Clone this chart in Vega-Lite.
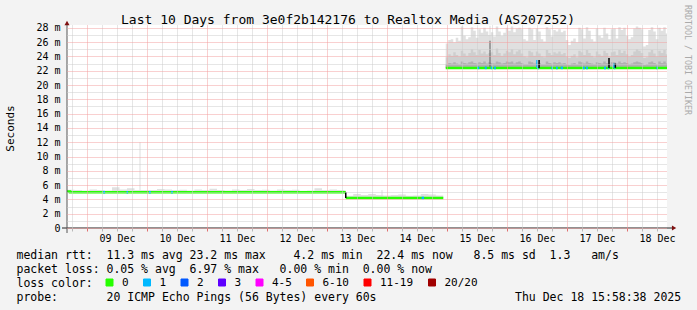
{
  "$schema": "https://vega.github.io/schema/vega-lite/v6.json",
  "width": 600,
  "height": 203,
  "autosize": {"type": "none"},
  "padding": {"left": 67, "top": 25, "right": 30, "bottom": 82},
  "background": "#f3f3f3",
  "config": {"view": {"fill": "#ffffff", "stroke": null}, "font": "DejaVu Sans Mono"},
  "title": {"text": "Last 10 Days from 3e0f2b142176 to Realtox Media (AS207252)", "font": "DejaVu Sans Mono", "fontSize": 13, "fontWeight": "normal", "color": "#000000", "frame": "group", "anchor": "middle", "dx": -19, "baseline": "middle", "offset": -28},
  "datasets": {
    "smoke": [
      {"t":"2025-12-08T16:00","s":1,"lo":4.95,"a":5.02,"b":5.1,"hi":5.35},
      {"t":"2025-12-08T19:00","s":1,"lo":4.95,"a":5.02,"b":5.1,"hi":5.3},
      {"t":"2025-12-08T22:00","s":1,"lo":4.95,"a":5.02,"b":5.1,"hi":5.25},
      {"t":"2025-12-09T01:00","s":1,"lo":4.95,"a":5.02,"b":5.1,"hi":5.4},
      {"t":"2025-12-09T04:00","s":1,"lo":4.95,"a":5.02,"b":5.1,"hi":5.3},
      {"t":"2025-12-09T07:00","s":1,"lo":4.95,"a":5.02,"b":5.1,"hi":5.25},
      {"t":"2025-12-09T10:00","s":1,"lo":4.95,"a":5.02,"b":5.12,"hi":5.7},
      {"t":"2025-12-09T13:00","s":1,"lo":4.95,"a":5.02,"b":5.1,"hi":5.4},
      {"t":"2025-12-09T16:00","s":1,"lo":4.95,"a":5.02,"b":5.12,"hi":5.55},
      {"t":"2025-12-09T19:00","s":1,"lo":4.95,"a":5.02,"b":5.1,"hi":5.3},
      {"t":"2025-12-09T22:00","s":1,"lo":4.95,"a":5.02,"b":5.1,"hi":5.3},
      {"t":"2025-12-10T01:00","s":1,"lo":4.95,"a":5.02,"b":5.1,"hi":5.3},
      {"t":"2025-12-10T04:00","s":1,"lo":4.95,"a":5.02,"b":5.1,"hi":5.45},
      {"t":"2025-12-10T07:00","s":1,"lo":4.95,"a":5.02,"b":5.1,"hi":5.4},
      {"t":"2025-12-10T10:00","s":1,"lo":4.95,"a":5.02,"b":5.1,"hi":5.3},
      {"t":"2025-12-10T13:00","s":1,"lo":4.95,"a":5.02,"b":5.1,"hi":5.35},
      {"t":"2025-12-10T16:00","s":1,"lo":4.95,"a":5.02,"b":5.1,"hi":5.25},
      {"t":"2025-12-10T19:00","s":1,"lo":4.95,"a":5.02,"b":5.1,"hi":5.4},
      {"t":"2025-12-10T22:00","s":1,"lo":4.95,"a":5.02,"b":5.1,"hi":5.3},
      {"t":"2025-12-11T01:00","s":1,"lo":4.95,"a":5.02,"b":5.1,"hi":5.5},
      {"t":"2025-12-11T04:00","s":1,"lo":4.95,"a":5.02,"b":5.1,"hi":5.3},
      {"t":"2025-12-11T07:00","s":1,"lo":4.95,"a":5.02,"b":5.1,"hi":5.25},
      {"t":"2025-12-11T10:00","s":1,"lo":4.95,"a":5.02,"b":5.1,"hi":5.4},
      {"t":"2025-12-11T13:00","s":1,"lo":4.95,"a":5.02,"b":5.1,"hi":5.3},
      {"t":"2025-12-11T16:00","s":1,"lo":4.95,"a":5.02,"b":5.1,"hi":5.45},
      {"t":"2025-12-11T19:00","s":1,"lo":4.95,"a":5.02,"b":5.1,"hi":5.3},
      {"t":"2025-12-11T22:00","s":1,"lo":4.95,"a":5.02,"b":5.1,"hi":5.35},
      {"t":"2025-12-12T01:00","s":1,"lo":4.95,"a":5.02,"b":5.1,"hi":5.25},
      {"t":"2025-12-12T04:00","s":1,"lo":4.95,"a":5.02,"b":5.1,"hi":5.4},
      {"t":"2025-12-12T07:00","s":1,"lo":4.95,"a":5.02,"b":5.1,"hi":5.3},
      {"t":"2025-12-12T10:00","s":1,"lo":4.95,"a":5.02,"b":5.1,"hi":5.35},
      {"t":"2025-12-12T13:00","s":1,"lo":4.95,"a":5.02,"b":5.1,"hi":5.2},
      {"t":"2025-12-12T16:00","s":1,"lo":4.95,"a":5.02,"b":5.1,"hi":5.25},
      {"t":"2025-12-12T19:00","s":1,"lo":4.95,"a":5.02,"b":5.12,"hi":5.55},
      {"t":"2025-12-12T22:00","s":1,"lo":4.95,"a":5.02,"b":5.1,"hi":5.3},
      {"t":"2025-12-13T01:00","s":1,"lo":4.95,"a":5.02,"b":5.1,"hi":5.4},
      {"t":"2025-12-13T04:00","s":1,"lo":4.95,"a":5.02,"b":5.1,"hi":5.3},
      {"t":"2025-12-13T07:00","s":1,"lo":4.95,"a":5.02,"b":5.1,"hi":5.25},
      {"t":"2025-12-13T07:30","s":1,"lo":4.95,"a":5.02,"b":5.1,"hi":5.25},
      {"t":"2025-12-13T07:30","s":2,"lo":4.15,"a":4.22,"b":4.3,"hi":4.5},
      {"t":"2025-12-13T10:30","s":2,"lo":4.15,"a":4.22,"b":4.3,"hi":4.75},
      {"t":"2025-12-13T13:30","s":2,"lo":4.15,"a":4.22,"b":4.3,"hi":4.6},
      {"t":"2025-12-13T16:30","s":2,"lo":4.15,"a":4.22,"b":4.3,"hi":4.75},
      {"t":"2025-12-13T19:30","s":2,"lo":4.15,"a":4.22,"b":4.3,"hi":4.6},
      {"t":"2025-12-13T22:30","s":2,"lo":4.15,"a":4.22,"b":4.3,"hi":4.55},
      {"t":"2025-12-14T01:30","s":2,"lo":4.15,"a":4.22,"b":4.3,"hi":4.6},
      {"t":"2025-12-14T04:30","s":2,"lo":4.15,"a":4.22,"b":4.3,"hi":4.7},
      {"t":"2025-12-14T07:30","s":2,"lo":4.15,"a":4.22,"b":4.3,"hi":4.5},
      {"t":"2025-12-14T10:30","s":2,"lo":4.15,"a":4.22,"b":4.3,"hi":4.55},
      {"t":"2025-12-14T13:30","s":2,"lo":4.15,"a":4.22,"b":4.3,"hi":4.75},
      {"t":"2025-12-14T16:30","s":2,"lo":4.15,"a":4.22,"b":4.3,"hi":4.7},
      {"t":"2025-12-14T19:30","s":2,"lo":4.15,"a":4.22,"b":4.3,"hi":4.55},
      {"t":"2025-12-14T22:30","s":2,"lo":4.15,"a":4.22,"b":4.3,"hi":4.55},
      {"t":"2025-12-14T23:30","s":3,"lo":22.35,"a":22.9,"b":23.9,"hi":25.8},
      {"t":"2025-12-15T00:30","s":3,"lo":22.35,"a":23.1,"b":24.3,"hi":26.3},
      {"t":"2025-12-15T01:30","s":3,"lo":22.35,"a":23.0,"b":24.1,"hi":26.4},
      {"t":"2025-12-15T02:30","s":3,"lo":22.35,"a":23.2,"b":24.6,"hi":26.0},
      {"t":"2025-12-15T03:30","s":3,"lo":22.35,"a":23.0,"b":24.2,"hi":26.6},
      {"t":"2025-12-15T04:30","s":3,"lo":22.35,"a":22.9,"b":24.0,"hi":26.2},
      {"t":"2025-12-15T05:30","s":3,"lo":22.35,"a":23.3,"b":24.8,"hi":28.2},
      {"t":"2025-12-15T06:30","s":3,"lo":22.35,"a":23.1,"b":24.4,"hi":26.9},
      {"t":"2025-12-15T07:30","s":3,"lo":22.35,"a":23.0,"b":24.1,"hi":26.4},
      {"t":"2025-12-15T08:30","s":3,"lo":22.35,"a":23.2,"b":24.5,"hi":26.7},
      {"t":"2025-12-15T09:30","s":3,"lo":22.35,"a":23.3,"b":25.0,"hi":28.1},
      {"t":"2025-12-15T10:30","s":3,"lo":22.35,"a":23.1,"b":24.6,"hi":27.6},
      {"t":"2025-12-15T11:30","s":3,"lo":22.35,"a":23.0,"b":24.2,"hi":26.6},
      {"t":"2025-12-15T12:30","s":3,"lo":22.35,"a":23.2,"b":24.9,"hi":27.8},
      {"t":"2025-12-15T13:30","s":3,"lo":22.35,"a":23.1,"b":24.4,"hi":27.3},
      {"t":"2025-12-15T14:30","s":3,"lo":22.35,"a":23.3,"b":24.7,"hi":28.0},
      {"t":"2025-12-15T15:30","s":3,"lo":22.35,"a":23.0,"b":24.3,"hi":27.5},
      {"t":"2025-12-15T16:30","s":3,"lo":22.35,"a":23.2,"b":24.5,"hi":27.0},
      {"t":"2025-12-15T17:30","s":3,"lo":22.35,"a":23.1,"b":24.6,"hi":27.4},
      {"t":"2025-12-15T18:30","s":3,"lo":22.35,"a":23.0,"b":24.2,"hi":26.8},
      {"t":"2025-12-15T19:30","s":3,"lo":22.35,"a":23.3,"b":25.1,"hi":28.2},
      {"t":"2025-12-15T20:30","s":3,"lo":22.35,"a":23.2,"b":24.5,"hi":27.5},
      {"t":"2025-12-15T21:30","s":3,"lo":22.35,"a":23.0,"b":24.1,"hi":26.9},
      {"t":"2025-12-15T22:30","s":3,"lo":22.35,"a":23.1,"b":24.4,"hi":27.3},
      {"t":"2025-12-15T23:30","s":3,"lo":22.35,"a":23.3,"b":24.8,"hi":28.0},
      {"t":"2025-12-16T00:30","s":3,"lo":22.35,"a":23.2,"b":24.6,"hi":27.6},
      {"t":"2025-12-16T01:30","s":3,"lo":22.35,"a":23.3,"b":25.0,"hi":28.2},
      {"t":"2025-12-16T02:30","s":3,"lo":22.35,"a":23.0,"b":24.3,"hi":27.4},
      {"t":"2025-12-16T03:30","s":3,"lo":22.35,"a":23.2,"b":24.7,"hi":27.9},
      {"t":"2025-12-16T04:30","s":3,"lo":22.35,"a":23.3,"b":24.9,"hi":28.0},
      {"t":"2025-12-16T05:30","s":3,"lo":22.35,"a":23.1,"b":24.4,"hi":27.8},
      {"t":"2025-12-16T06:30","s":3,"lo":22.35,"a":22.9,"b":24.0,"hi":26.4},
      {"t":"2025-12-16T07:30","s":3,"lo":22.35,"a":22.9,"b":23.9,"hi":26.2},
      {"t":"2025-12-16T08:30","s":3,"lo":22.35,"a":23.3,"b":24.8,"hi":28.0},
      {"t":"2025-12-16T09:30","s":3,"lo":22.35,"a":23.2,"b":24.6,"hi":27.8},
      {"t":"2025-12-16T10:30","s":3,"lo":22.35,"a":23.0,"b":24.1,"hi":26.3},
      {"t":"2025-12-16T11:30","s":3,"lo":22.35,"a":23.2,"b":24.7,"hi":27.9},
      {"t":"2025-12-16T12:30","s":3,"lo":22.35,"a":23.1,"b":24.4,"hi":27.5},
      {"t":"2025-12-16T13:30","s":3,"lo":22.35,"a":22.9,"b":24.0,"hi":26.4},
      {"t":"2025-12-16T14:30","s":3,"lo":22.35,"a":22.9,"b":23.9,"hi":26.1},
      {"t":"2025-12-16T15:30","s":3,"lo":22.35,"a":23.3,"b":24.9,"hi":28.1},
      {"t":"2025-12-16T16:30","s":3,"lo":22.35,"a":23.1,"b":24.5,"hi":27.8},
      {"t":"2025-12-16T17:30","s":3,"lo":22.35,"a":23.0,"b":24.2,"hi":26.8},
      {"t":"2025-12-16T18:30","s":3,"lo":22.35,"a":23.2,"b":24.6,"hi":27.7},
      {"t":"2025-12-16T19:30","s":3,"lo":22.35,"a":23.1,"b":24.4,"hi":27.5},
      {"t":"2025-12-16T20:30","s":3,"lo":22.35,"a":23.2,"b":24.7,"hi":27.8},
      {"t":"2025-12-16T21:30","s":3,"lo":22.35,"a":23.0,"b":24.3,"hi":27.4},
      {"t":"2025-12-16T22:30","s":3,"lo":22.35,"a":23.1,"b":24.5,"hi":27.6},
      {"t":"2025-12-16T23:30","s":3,"lo":22.35,"a":22.9,"b":24.0,"hi":26.3},
      {"t":"2025-12-17T00:30","s":3,"lo":22.35,"a":22.8,"b":23.8,"hi":25.6},
      {"t":"2025-12-17T01:30","s":3,"lo":22.35,"a":23.0,"b":24.1,"hi":26.2},
      {"t":"2025-12-17T02:30","s":3,"lo":22.35,"a":23.1,"b":24.3,"hi":26.5},
      {"t":"2025-12-17T03:30","s":3,"lo":22.35,"a":22.9,"b":23.9,"hi":26.0},
      {"t":"2025-12-17T04:30","s":3,"lo":22.35,"a":23.3,"b":24.8,"hi":28.0},
      {"t":"2025-12-17T05:30","s":3,"lo":22.35,"a":23.2,"b":24.6,"hi":27.8},
      {"t":"2025-12-17T06:30","s":3,"lo":22.35,"a":23.0,"b":24.2,"hi":26.5},
      {"t":"2025-12-17T07:30","s":3,"lo":22.35,"a":23.3,"b":24.9,"hi":28.1},
      {"t":"2025-12-17T08:30","s":3,"lo":22.35,"a":23.1,"b":24.5,"hi":27.6},
      {"t":"2025-12-17T09:30","s":3,"lo":22.35,"a":23.0,"b":24.1,"hi":26.4},
      {"t":"2025-12-17T10:30","s":3,"lo":22.35,"a":22.9,"b":23.9,"hi":26.1},
      {"t":"2025-12-17T11:30","s":3,"lo":22.35,"a":23.2,"b":24.7,"hi":27.9},
      {"t":"2025-12-17T12:30","s":3,"lo":22.35,"a":23.1,"b":24.3,"hi":26.9},
      {"t":"2025-12-17T13:30","s":3,"lo":22.35,"a":23.0,"b":24.1,"hi":26.6},
      {"t":"2025-12-17T14:30","s":3,"lo":22.35,"a":23.3,"b":24.8,"hi":28.0},
      {"t":"2025-12-17T15:30","s":3,"lo":22.35,"a":23.1,"b":24.5,"hi":27.2},
      {"t":"2025-12-17T16:30","s":3,"lo":22.35,"a":22.9,"b":24.0,"hi":26.4},
      {"t":"2025-12-17T17:30","s":3,"lo":22.35,"a":23.2,"b":24.6,"hi":27.8},
      {"t":"2025-12-17T18:30","s":3,"lo":22.35,"a":23.2,"b":24.7,"hi":27.9},
      {"t":"2025-12-17T19:30","s":3,"lo":22.35,"a":23.0,"b":24.2,"hi":26.5},
      {"t":"2025-12-17T20:30","s":3,"lo":22.35,"a":23.3,"b":24.9,"hi":28.1},
      {"t":"2025-12-17T21:30","s":3,"lo":22.35,"a":23.1,"b":24.5,"hi":27.7},
      {"t":"2025-12-17T22:30","s":3,"lo":22.35,"a":23.2,"b":24.8,"hi":28.0},
      {"t":"2025-12-17T23:30","s":3,"lo":22.35,"a":23.1,"b":24.3,"hi":26.9},
      {"t":"2025-12-18T00:30","s":3,"lo":22.35,"a":22.9,"b":24.0,"hi":26.4},
      {"t":"2025-12-18T01:30","s":3,"lo":22.35,"a":23.0,"b":24.2,"hi":26.7},
      {"t":"2025-12-18T02:30","s":3,"lo":22.35,"a":23.2,"b":24.7,"hi":27.9},
      {"t":"2025-12-18T03:30","s":3,"lo":22.35,"a":23.3,"b":25.0,"hi":28.2},
      {"t":"2025-12-18T04:30","s":3,"lo":22.35,"a":23.2,"b":24.8,"hi":28.0},
      {"t":"2025-12-18T05:30","s":3,"lo":22.35,"a":23.1,"b":24.5,"hi":27.8},
      {"t":"2025-12-18T06:30","s":3,"lo":22.35,"a":22.8,"b":23.8,"hi":25.4},
      {"t":"2025-12-18T07:30","s":3,"lo":22.35,"a":22.9,"b":23.9,"hi":25.6},
      {"t":"2025-12-18T08:30","s":3,"lo":22.35,"a":23.2,"b":24.6,"hi":27.7},
      {"t":"2025-12-18T09:30","s":3,"lo":22.35,"a":23.3,"b":24.9,"hi":28.1},
      {"t":"2025-12-18T10:30","s":3,"lo":22.35,"a":23.1,"b":24.4,"hi":27.5},
      {"t":"2025-12-18T11:30","s":3,"lo":22.35,"a":22.9,"b":24.0,"hi":26.4},
      {"t":"2025-12-18T12:30","s":3,"lo":22.35,"a":23.3,"b":24.8,"hi":28.0},
      {"t":"2025-12-18T13:30","s":3,"lo":22.35,"a":23.1,"b":24.5,"hi":27.6},
      {"t":"2025-12-18T14:30","s":3,"lo":22.35,"a":23.3,"b":24.9,"hi":28.1},
      {"t":"2025-12-18T15:30","s":3,"lo":22.35,"a":23.0,"b":24.3,"hi":27.2},
      {"t":"2025-12-18T16:00","s":3,"lo":22.35,"a":23.0,"b":24.3,"hi":27.2}
    ],
    "median": [
      {"t":"2025-12-08T16:00","v":5.1,"loss":"0","s":"g1"},
      {"t":"2025-12-08T17:12","v":5.0,"loss":"0","s":"g1"},
      {"t":"2025-12-13T07:30","v":5.0,"loss":"0","s":"g1"},
      {"t":"2025-12-13T07:30","v":4.2,"loss":"0","s":"g2"},
      {"t":"2025-12-14T22:30","v":4.2,"loss":"0","s":"g2"},
      {"t":"2025-12-14T23:30","v":22.4,"loss":"0","s":"g3"},
      {"t":"2025-12-18T16:00","v":22.4,"loss":"0","s":"g3"},
      {"t":"2025-12-09T06:30","v":5.0,"loss":"1","s":"b1"},
      {"t":"2025-12-09T07:12","v":5.0,"loss":"1","s":"b1"},
      {"t":"2025-12-09T15:50","v":5.0,"loss":"1","s":"b2"},
      {"t":"2025-12-09T16:25","v":5.0,"loss":"1","s":"b2"},
      {"t":"2025-12-10T00:48","v":5.0,"loss":"1","s":"b3"},
      {"t":"2025-12-10T01:30","v":5.0,"loss":"1","s":"b3"},
      {"t":"2025-12-10T09:40","v":5.0,"loss":"1","s":"b4"},
      {"t":"2025-12-10T10:20","v":5.0,"loss":"1","s":"b4"},
      {"t":"2025-12-14T13:50","v":4.2,"loss":"1","s":"b5"},
      {"t":"2025-12-14T14:50","v":4.2,"loss":"1","s":"b5"},
      {"t":"2025-12-15T12:06","v":22.4,"loss":"1","s":"b6"},
      {"t":"2025-12-15T12:54","v":22.4,"loss":"1","s":"b6"},
      {"t":"2025-12-15T15:06","v":22.4,"loss":"1","s":"b7"},
      {"t":"2025-12-15T15:54","v":22.4,"loss":"1","s":"b7"},
      {"t":"2025-12-15T17:30","v":22.4,"loss":"1","s":"b8"},
      {"t":"2025-12-15T18:10","v":22.4,"loss":"1","s":"b8"},
      {"t":"2025-12-15T18:50","v":22.4,"loss":"1","s":"b9"},
      {"t":"2025-12-15T19:36","v":22.4,"loss":"1","s":"b9"},
      {"t":"2025-12-16T12:06","v":22.4,"loss":"1","s":"b10"},
      {"t":"2025-12-16T12:42","v":22.4,"loss":"1","s":"b10"},
      {"t":"2025-12-16T17:42","v":22.4,"loss":"1","s":"b11"},
      {"t":"2025-12-16T18:18","v":22.4,"loss":"1","s":"b11"},
      {"t":"2025-12-16T19:36","v":22.4,"loss":"1","s":"b12"},
      {"t":"2025-12-16T20:20","v":22.4,"loss":"1","s":"b12"},
      {"t":"2025-12-16T21:30","v":22.4,"loss":"1","s":"b13"},
      {"t":"2025-12-16T22:24","v":22.4,"loss":"1","s":"b13"},
      {"t":"2025-12-17T06:24","v":22.4,"loss":"1","s":"b14"},
      {"t":"2025-12-17T07:06","v":22.4,"loss":"1","s":"b14"},
      {"t":"2025-12-17T07:36","v":22.4,"loss":"1","s":"b15"},
      {"t":"2025-12-17T08:24","v":22.4,"loss":"1","s":"b15"},
      {"t":"2025-12-17T14:48","v":22.4,"loss":"1","s":"b16"},
      {"t":"2025-12-17T15:36","v":22.4,"loss":"1","s":"b16"},
      {"t":"2025-12-17T16:18","v":22.4,"loss":"1","s":"b17"},
      {"t":"2025-12-17T16:42","v":22.4,"loss":"1","s":"b17"},
      {"t":"2025-12-17T18:54","v":22.4,"loss":"1","s":"b18"},
      {"t":"2025-12-17T19:18","v":22.4,"loss":"1","s":"b18"},
      {"t":"2025-12-18T11:45","v":22.4,"loss":"1","s":"b19"},
      {"t":"2025-12-18T12:20","v":22.4,"loss":"1","s":"b19"}
    ],
    "spikes": [
      {"t":"2025-12-09T21:12","y1":5.0,"y2":12.0,"k":"max"},
      {"t":"2025-12-13T22:00","y1":4.2,"y2":5.3,"k":"max"},
      {"t":"2025-12-15T17:12","y1":26.2,"y2":28.3,"k":"max"},
      {"t":"2025-12-15T17:12","y1":22.4,"y2":26.2,"k":"dark"},
      {"t":"2025-12-13T07:30","y1":4.2,"y2":5.0,"k":"edge"},
      {"t":"2025-12-16T12:50","y1":22.4,"y2":23.5,"k":"edge"},
      {"t":"2025-12-17T16:48","y1":22.4,"y2":23.8,"k":"edge"},
      {"t":"2025-12-17T19:20","y1":22.4,"y2":23.0,"k":"edge"},
      {"t":"2025-12-16T12:00","y1":22.4,"y2":23.5,"k":"l1"},
      {"t":"2025-12-17T18:50","y1":22.4,"y2":23.0,"k":"l1"}
    ]
  },
  "layer": [
    {
      "data": {"name": "smoke"},
      "mark": {"type": "area", "interpolate": "step-after", "color": "#e0e0e0", "opacity": 1},
      "encoding": {
        "x": {
          "field": "t", "type": "temporal",
          "scale": {"domain": [{"year": 2025, "month": 12, "date": 8, "hours": 16}, {"year": 2025, "month": 12, "date": 18, "hours": 16}], "nice": false},
          "axis": {
            "title": [
              "median rtt:\u00a0\u00a011.3 ms avg 23.2 ms max\u00a0\u00a0\u00a0\u00a04.2 ms min\u00a0\u00a022.4 ms now\u00a0\u00a0\u00a08.5 ms sd\u00a0\u00a01.3\u00a0\u00a0\u00a0am/s",
              "packet loss: 0.05 % avg\u00a0\u00a06.97 % max\u00a0\u00a0\u00a00.00 % min\u00a0\u00a00.00 % now",
              "loss color:",
              "probe:\u00a0\u00a0\u00a0\u00a0\u00a0\u00a0\u00a020 ICMP Echo Pings (56 Bytes) every 60s\u00a0\u00a0\u00a0\u00a0\u00a0\u00a0\u00a0\u00a0\u00a0\u00a0\u00a0\u00a0\u00a0\u00a0\u00a0\u00a0\u00a0\u00a0\u00a0\u00a0Thu Dec 18 15:58:38 2025"
            ],
            "tickCount": 40,
            "labelExpr": "hours(datum.value) == 12 ? timeFormat(datum.value, '%d %b') : ''",
            "gridColor": {"condition": {"test": "hours(datum.value) == 0", "value": "#f2a0a0"}, "value": "#cccccc"},
            "gridDash": [1, 1],
            "tickColor": {"condition": {"test": "hours(datum.value) == 0", "value": "#e07070"}, "value": "#b8b8b8"},
            "tickSize": 3,
            "domain": false,
            "labelPadding": 2,
            "labelFont": "DejaVu Sans Mono", "labelFontSize": 10, "labelColor": "#000000",
            "labelOverlap": false, "labelFlush": false, "labelBound": false,
            "titleFont": "DejaVu Sans Mono", "titleFontSize": 11.5, "titleFontWeight": "normal", "titleColor": "#000000",
            "titleAnchor": "start", "titleAlign": "left", "titleBaseline": "alphabetic",
            "titleX": -51, "titleY": 30, "titleLineHeight": 14,
            "zindex": 1
          }
        },
        "y": {
          "field": "hi", "type": "quantitative",
          "scale": {"domain": [0, 28.4], "nice": false, "zero": false},
          "axis": {
            "title": "Seconds",
            "values": [0,1,2,3,4,5,6,7,8,9,10,11,12,13,14,15,16,17,18,19,20,21,22,23,24,25,26,27,28],
            "tickCount": 100,
            "labelExpr": "datum.value == 0 ? '0\u00a0\u00a0' : (datum.value % 2 == 0 ? datum.value + ' m' : '')",
            "gridColor": {"condition": {"test": "datum.value % 2 == 0", "value": "#f2a0a0"}, "value": "#cccccc"},
            "gridDash": [1, 1],
            "domain": false, "ticks": false,
            "labelPadding": 7,
            "labelFont": "DejaVu Sans Mono", "labelFontSize": 10, "labelColor": "#000000",
            "labelOverlap": false,
            "titleFont": "DejaVu Sans Mono", "titleFontSize": 11, "titleFontWeight": "normal", "titleColor": "#000000",
            "titleX": -57, "titleY": 103, "titleAngle": 270, "titleAlign": "center", "titleBaseline": "middle",
            "zindex": 1
          }
        },
        "y2": {"field": "lo"},
        "detail": {"field": "s"}
      }
    },
    {
      "data": {"name": "smoke"},
      "mark": {"type": "area", "interpolate": "step-after", "color": "#cecece", "opacity": 1},
      "encoding": {
        "x": {"field": "t", "type": "temporal"},
        "y": {"field": "b", "type": "quantitative"},
        "y2": {"field": "lo"},
        "detail": {"field": "s"}
      }
    },
    {
      "data": {"name": "smoke"},
      "mark": {"type": "area", "interpolate": "step-after", "color": "#b0b0b0", "opacity": 1},
      "encoding": {
        "x": {"field": "t", "type": "temporal"},
        "y": {"field": "a", "type": "quantitative"},
        "y2": {"field": "lo"},
        "detail": {"field": "s"}
      }
    },
    {
      "data": {"name": "spikes"},
      "transform": [{"filter": "datum.k == 'max'"}],
      "mark": {"type": "rule", "color": "#dddddd", "strokeWidth": 1},
      "encoding": {"x": {"field": "t", "type": "temporal"}, "y": {"field": "y1", "type": "quantitative"}, "y2": {"field": "y2"}}
    },
    {
      "data": {"name": "spikes"},
      "transform": [{"filter": "datum.k == 'dark'"}],
      "mark": {"type": "rule", "color": "#5a5a5a", "strokeWidth": 1},
      "encoding": {"x": {"field": "t", "type": "temporal"}, "y": {"field": "y1", "type": "quantitative"}, "y2": {"field": "y2"}}
    },
    {
      "data": {"name": "median"},
      "transform": [{"filter": "datum.loss == '0'"}],
      "mark": {"type": "line", "interpolate": "step-after", "strokeWidth": 2.5, "strokeCap": "butt"},
      "encoding": {
        "x": {"field": "t", "type": "temporal"},
        "y": {"field": "v", "type": "quantitative"},
        "detail": {"field": "s"},
        "color": {
          "field": "loss", "type": "nominal",
          "scale": {"domain": ["0","1","2","3","4-5","6-10","11-19","20/20"], "range": ["#26ff00","#00b8ff","#0059ff","#5e00ff","#ff00ff","#ff5500","#ff0000","#a10000"]},
          "legend": {
            "orient": "none", "legendX": 37, "legendY": 252,
            "direction": "horizontal", "columns": 8, "gridAlign": "none",
            "title": null,
            "labelFont": "DejaVu Sans Mono", "labelFontSize": 11, "labelColor": "#000000",
            "labelOffset": 7, "columnPadding": 12.5, "padding": 0,
            "symbolType": "square", "symbolSize": 49, "symbolStrokeWidth": 1, "symbolStrokeColor": "#000000", "symbolOpacity": 1,
            "encode": {"symbols": {"update": {"fill": {"scale": "color", "field": "value"}, "stroke": {"value": "#000000"}, "strokeWidth": {"value": 1}, "opacity": {"value": 1}}}}
          }
        }
      }
    },
    {
      "data": {"name": "median"},
      "transform": [{"filter": "datum.loss != '0'"}],
      "mark": {"type": "line", "interpolate": "step-after", "strokeWidth": 2.5, "strokeCap": "butt"},
      "encoding": {
        "x": {"field": "t", "type": "temporal"},
        "y": {"field": "v", "type": "quantitative"},
        "detail": {"field": "s"},
        "color": {"field": "loss", "type": "nominal"}
      }
    },
    {
      "data": {"name": "spikes"},
      "transform": [{"filter": "datum.k == 'l1'"}],
      "mark": {"type": "rule", "color": "#00b8ff", "strokeWidth": 1.5},
      "encoding": {"x": {"field": "t", "type": "temporal"}, "y": {"field": "y1", "type": "quantitative"}, "y2": {"field": "y2"}}
    },
    {
      "data": {"name": "spikes"},
      "transform": [{"filter": "datum.k == 'edge'"}],
      "mark": {"type": "rule", "color": "#000000", "strokeWidth": 1.5},
      "encoding": {"x": {"field": "t", "type": "temporal"}, "y": {"field": "y1", "type": "quantitative"}, "y2": {"field": "y2"}}
    },
    {
      "data": {"values": [{}]},
      "mark": {"type": "rule", "color": "#222222", "strokeWidth": 1},
      "encoding": {
        "x": {"datum": {"year": 2025, "month": 12, "date": 8, "hours": 14}, "type": "temporal"},
        "x2": {"datum": {"year": 2025, "month": 12, "date": 18, "hours": 18}},
        "y": {"datum": 0, "type": "quantitative"}
      }
    },
    {
      "data": {"values": [{}]},
      "mark": {"type": "rule", "color": "#555555", "strokeWidth": 1},
      "encoding": {
        "x": {"datum": {"year": 2025, "month": 12, "date": 8, "hours": 16}, "type": "temporal"},
        "y": {"datum": -0.7, "type": "quantitative"},
        "y2": {"datum": 28.6}
      }
    },
    {
      "data": {"values": [{}]},
      "mark": {"type": "point", "shape": "triangle-up", "filled": true, "color": "#7f1010", "size": 25, "opacity": 1},
      "encoding": {
        "x": {"datum": {"year": 2025, "month": 12, "date": 8, "hours": 16}, "type": "temporal"},
        "y": {"datum": 28.68, "type": "quantitative"}
      }
    },
    {
      "data": {"values": [{}]},
      "mark": {"type": "point", "shape": "triangle-right", "filled": true, "color": "#7f1010", "size": 25, "opacity": 1},
      "encoding": {
        "x": {"datum": {"year": 2025, "month": 12, "date": 18, "hours": 18, "minutes": 50}, "type": "temporal"},
        "y": {"datum": 0, "type": "quantitative"}
      }
    },
    {
      "data": {"values": [{}]},
      "mark": {"type": "text", "text": "RRDTOOL / TOBI OETIKER", "angle": 90, "align": "left", "baseline": "middle", "font": "DejaVu Sans Mono", "fontSize": 8.3, "color": "#aaaaaa"},
      "encoding": {
        "x": {"datum": {"year": 2025, "month": 12, "date": 19, "hours": 0}, "type": "temporal"},
        "y": {"datum": 31.2, "type": "quantitative"}
      }
    }
  ]
}
